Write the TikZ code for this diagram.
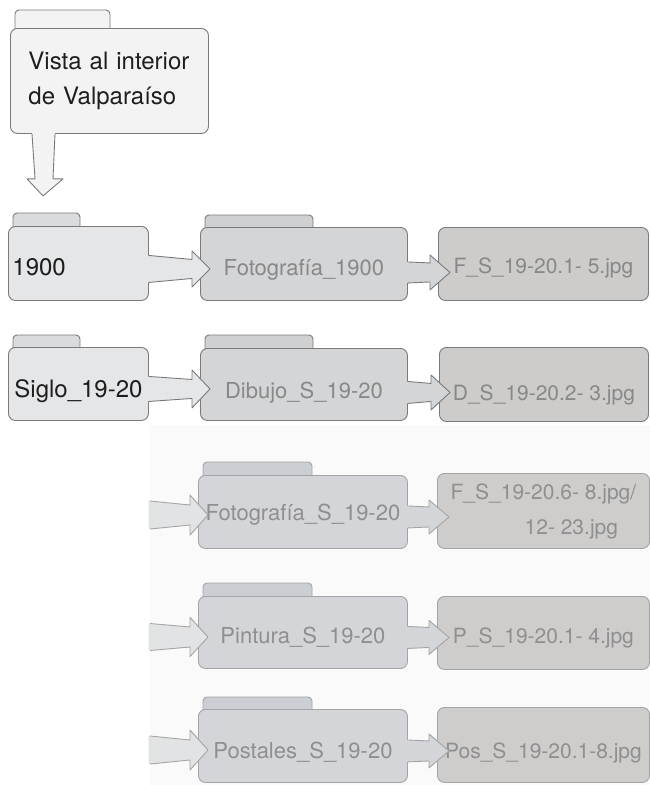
\documentclass[tikz,border=0pt]{standalone}
\usepackage{fontspec}
\setmainfont{TeX Gyre Heros}
\usetikzlibrary{calc}
\pgfdeclarelayer{bgA}\pgfdeclarelayer{bgB}\pgfsetlayers{bgA,bgB,main}
\definecolor{strk}{HTML}{7A7A7A}
\definecolor{strkL}{HTML}{A4A4A4}
\definecolor{topfill}{HTML}{F3F3F3}
\definecolor{lvA}{HTML}{E5E6E8}
\definecolor{lvAtab}{HTML}{DADBDD}
\definecolor{lvB}{HTML}{D4D5D7}
\definecolor{lvBtab}{HTML}{CFD0D2}
\definecolor{lvC}{HTML}{CDCCCB}
\definecolor{lwB}{HTML}{D3D5D9}
\definecolor{lwBtab}{HTML}{CBCED2}
\definecolor{lwC}{HTML}{CFCDCC}
\definecolor{lwIn}{HTML}{E2E3E4}
\definecolor{panelc}{HTML}{FAFAFA}
\definecolor{darktext}{HTML}{1E1E1E}
\definecolor{graytext}{HTML}{888888}
\definecolor{graytextL}{HTML}{8F8F8F}
\tikzset{
  body/.style={rounded corners=7pt, line width=0.9pt, anchor=north west, inner sep=0pt, align=center},
  tdown/.style={text height=#1, text depth=5pt},
  topbox/.style={body, draw=strk, fill=topfill, text=darktext, font=\fontsize{24}{35}\selectfont},
  boxA/.style={body, draw=strk, fill=lvA, text=darktext, font=\fontsize{24}{30}\selectfont},
  boxB/.style={body, draw=strk, fill=lvB, text=graytext, font=\fontsize{22}{30}\selectfont},
  boxC/.style={body, draw=strk, fill=lvC, text=graytext, font=\fontsize{21}{30}\selectfont},
  boxLB/.style={body, draw=strkL, fill=lwB, text=graytextL, font=\fontsize{22}{35}\selectfont},
  boxLC/.style={body, draw=strkL, fill=lwC, text=graytextL, font=\fontsize{21}{35}\selectfont},
  tabTop/.style={rounded corners=4pt, line width=0.9pt, draw=strk, fill=topfill},
  tabA/.style={rounded corners=4pt, line width=0.9pt, draw=strk, fill=lvAtab},
  tabB/.style={rounded corners=4pt, line width=0.9pt, draw=strk, fill=lvBtab},
  tabLB/.style={rounded corners=4pt, line width=0.9pt, draw=strkL, fill=lwBtab},
  arrTop/.style={line width=0.9pt, draw=strk, fill=topfill, line join=round},
  arrA/.style={line width=0.9pt, draw=strk, fill=lvA, line join=round},
  arrB/.style={line width=0.9pt, draw=strk, fill=lvB, line join=round},
  arrLin/.style={line width=0.9pt, draw=strkL, fill=lwIn, line join=round},
  arrLB/.style={line width=0.9pt, draw=strkL, fill=lwB, line join=round},
}
% #1 node, #2 left offset, #3 right offset, #4 height, #5 style
\newcommand\foldertab[5]{%
  \begin{pgfonlayer}{bgB}
  \path[#5] ($(#1.north west)+(#2,-#4)$) rectangle ($(#1.north west)+(#3,8)$);
  \end{pgfonlayer}}
% #1 start point, #2 target point, #3 dy, #4 w1, #5 w2, #6 head half, #7 tip ext, #8 style
\newcommand\blockarrow[8]{%
  \coordinate (As) at ($(#1)+(0,#3)$);
  \coordinate (At) at ($(#1 -| #2)+(0,#3)$);
  \path[#8, draw=none] ($(As)+(-1.5,-#4)$) -- ($(At)+(-8,-#5)$) -- ($(At)+(-8,-#6)$) -- ($(At)+(#7,0)$)
     -- ($(At)+(-8,#6)$) -- ($(At)+(-8,#5)$) -- ($(As)+(-1.5,#4)$) -- cycle;
  \path[#8, fill=none] ($(As)+(0,-#4)$) -- ($(At)+(-8,-#5)$) -- ($(At)+(-8,-#6)$) -- ($(At)+(#7,0)$)
     -- ($(At)+(-8,#6)$) -- ($(At)+(-8,#5)$) -- ($(As)+(0,#4)$);
}
\begin{document}
\begin{tikzpicture}[x=1pt,y=-1pt]
\useasboundingbox (0,0) rectangle (650,785);
\begin{pgfonlayer}{bgA}
  \fill[panelc] (150,425) rectangle (650,785);
\end{pgfonlayer}

% top folder
\node[topbox, minimum width=198pt, minimum height=105pt, text width=162pt, align=left] (v) at (10,28)
  {Vista al interior\\de Valparaíso};
\foldertab{v}{5}{100}{18}{tabTop}

% row 1
\node[boxA, tdown=30pt, minimum width=140pt, minimum height=74pt, text width=132pt, align=left] (n1) at (8,226) {1900};
\foldertab{n1}{5}{72}{13}{tabA}
\node[boxB, tdown=28.8pt, minimum width=207pt, minimum height=73pt] (m1) at (200,227) {Fotografía\_1900};
\foldertab{m1}{5}{113}{12}{tabB}
\node[boxC, tdown=24.8pt, minimum width=210pt, minimum height=73pt] (f1) at (438,227) {F\_S\_19-20.1- 5.jpg};

% row 2
\node[boxA, tdown=33pt, minimum width=140pt, minimum height=73pt] (n2) at (8,347) {Siglo\_19-20};
\foldertab{n2}{5}{72}{12}{tabA}
\node[boxB, tdown=33.8pt, minimum width=207pt, minimum height=72pt] (m2) at (200,348) {Dibujo\_S\_19-20};
\foldertab{m2}{5}{113}{13}{tabB}
\node[boxC, tdown=36.8pt, minimum width=209pt, minimum height=74pt] (f2) at (439,347) {D\_S\_19-20.2- 3.jpg};

% row 3
\node[boxLB, tdown=22.8pt, minimum width=209pt, minimum height=73pt] (m3) at (198,475) {Fotografía\_S\_19-20};
\foldertab{m3}{5}{114}{13}{tabLB}
\node[boxLC, minimum width=212pt, minimum height=75pt, align=left] (f3) at (437,473)
  {F\_S\_19-20.6- 8.jpg/\\\hspace*{74pt}12- 23.jpg};
\coordinate (e3) at (150,515);

% row 4
\node[boxLB, tdown=27.8pt, minimum width=209pt, minimum height=72pt] (m4) at (198,596) {Pintura\_S\_19-20};
\foldertab{m4}{5}{114}{13}{tabLB}
\node[boxLC, tdown=26.8pt, minimum width=212pt, minimum height=73pt] (f4) at (437,596) {P\_S\_19-20.1- 4.jpg};
\coordinate (e4) at (150,637);

% row 5
\node[boxLB, tdown=30.8pt, minimum width=209pt, minimum height=73pt] (m5) at (198,709) {Postales\_S\_19-20};
\foldertab{m5}{5}{114}{12}{tabLB}
\node[boxLC, tdown=32.8pt, minimum width=212pt, minimum height=75pt] (f5) at (437,707) {Pos\_S\_19-20.1-8.jpg};
\coordinate (e5) at (150,750);

% down arrow from top folder
\path[arrTop, draw=none] ($(v.south west)+(22,-1.5)$) -- ($(v.south west)+(25,45)$) -- ($(v.south west)+(17,45)$)
  -- ($(v.south west)+(33,62)$) -- ($(v.south west)+(53,45)$) -- ($(v.south west)+(43,45)$)
  -- ($(v.south west)+(45,-1.5)$) -- cycle;
\path[arrTop, fill=none] ($(v.south west)+(22,0)$) -- ($(v.south west)+(25,45)$) -- ($(v.south west)+(17,45)$)
  -- ($(v.south west)+(33,62)$) -- ($(v.south west)+(53,45)$) -- ($(v.south west)+(43,45)$)
  -- ($(v.south west)+(45,0)$);

% horizontal arrows
\blockarrow{n1.east}{m1.west}{5.5}{13.5}{9.5}{18}{10}{arrA}
\blockarrow{m1.east}{f1.west}{8.5}{10.5}{9.5}{17.5}{12}{arrB}
\blockarrow{n2.east}{m2.west}{5}{12.5}{9.5}{19}{10}{arrA}
\blockarrow{m2.east}{f2.west}{8}{11}{9}{17.5}{11}{arrB}
\blockarrow{e3}{m3.west}{0}{14}{10}{20}{10}{arrLin}
\blockarrow{m3.east}{f3.west}{5}{11}{10}{17}{12}{arrLB}
\blockarrow{e4}{m4.west}{0}{13.5}{10}{19.5}{10}{arrLin}
\blockarrow{m4.east}{f4.west}{5}{11}{10}{17}{12}{arrLB}
\blockarrow{e5}{m5.west}{0}{14}{10}{20}{10}{arrLin}
\blockarrow{m5.east}{f5.west}{5}{11}{10}{17}{12}{arrLB}
\end{tikzpicture}
\end{document}
